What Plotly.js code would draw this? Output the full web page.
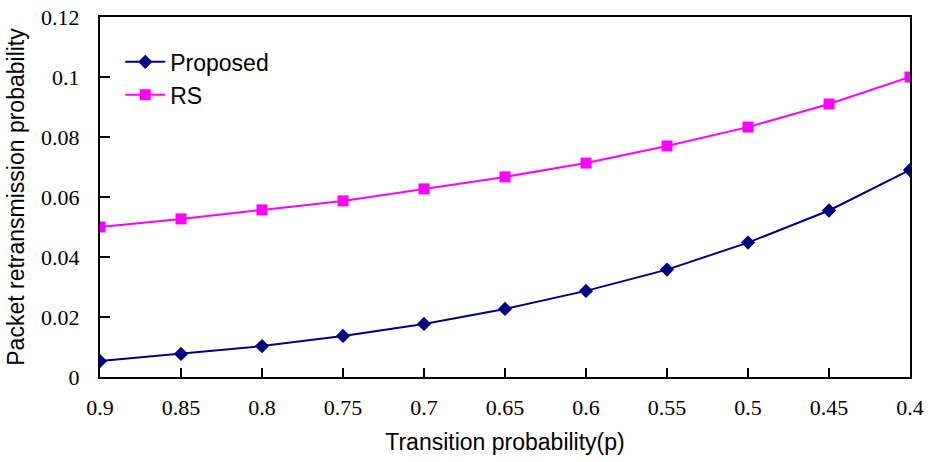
<!DOCTYPE html>
<html>
<head>
<meta charset="utf-8">
<script src="https://cdn.plot.ly/plotly-3.0.1.min.js"></script>
<style>html,body{margin:0;padding:0;background:#fff;}#chart{width:928px;height:462px;}</style>
</head>
<body>
<div id="chart"></div>
<script>
const transitionP = [0.9, 0.85, 0.8, 0.75, 0.7, 0.65, 0.6, 0.55, 0.5, 0.45, 0.4];
const tickLabels = ["0.9", "0.85", "0.8", "0.75", "0.7", "0.65", "0.6", "0.55", "0.5", "0.45", "0.4"];
const proposed = [0.0053, 0.0077, 0.0103, 0.0137, 0.0177, 0.0227, 0.0287, 0.0358, 0.0448, 0.0555, 0.069];
const rs = [0.050, 0.0527, 0.0557, 0.0587, 0.0627, 0.0667, 0.0713, 0.077, 0.0833, 0.091, 0.100];
const yTicks = [0, 0.02, 0.04, 0.06, 0.08, 0.1, 0.12];
const yTickLabels = ["0", "0.02", "0.04", "0.06", "0.08", "0.1", "0.12"];

const SERIF = "Liberation Serif";
const SANS = "Liberation Sans";

const traces = [
  {x: transitionP, y: proposed, name: "Proposed", mode: "lines+markers",
   line: {color: "#000080", width: 2},
   marker: {symbol: "diamond", size: 11, color: "#000080"}},
  {x: transitionP, y: rs, name: "RS", mode: "lines+markers",
   line: {color: "#FF00FF", width: 2},
   marker: {symbol: "square", size: 11, color: "#FF00FF"}}
];

const layout = {
  width: 928, height: 462,
  margin: {l: 100, r: 18, t: 17, b: 85},
  paper_bgcolor: "#fff", plot_bgcolor: "#fff",
  font: {family: SERIF, size: 22, color: "#000"},
  showlegend: true,
  legend: {x: 0.025, y: 0.935, xanchor: "left", yanchor: "top",
           font: {family: SANS, size: 23, color: "#000"},
           bgcolor: "rgba(0,0,0,0)", tracegroupgap: 0, itemwidth: 40},
  xaxis: {
    range: [0.9, 0.4], tickvals: transitionP, ticktext: tickLabels,
    ticks: "inside", ticklen: 9, tickwidth: 2, tickcolor: "#000",
    showline: true, linecolor: "#000", linewidth: 2, mirror: true,
    showgrid: false, zeroline: false, ticklabelstandoff: 10,
    tickfont: {family: SERIF, size: 22, color: "#000"},
    title: {text: "Transition probability(p)", standoff: 14,
            font: {family: SANS, size: 23, color: "#000"}}
  },
  yaxis: {
    range: [0, 0.12], tickvals: yTicks, ticktext: yTickLabels,
    ticks: "inside", ticklen: 10, tickwidth: 2, tickcolor: "#000",
    showline: true, linecolor: "#000", linewidth: 2, mirror: true,
    showgrid: false, zeroline: false, ticklabelstandoff: 14,
    tickfont: {family: SERIF, size: 22, color: "#000"},
    title: {text: "Packet retransmission probability", standoff: 10,
            font: {family: SANS, size: 23, color: "#000"}}
  }
};

Plotly.newPlot("chart", traces, layout, {staticPlot: true, displayModeBar: false});
</script>
</body>
</html>
